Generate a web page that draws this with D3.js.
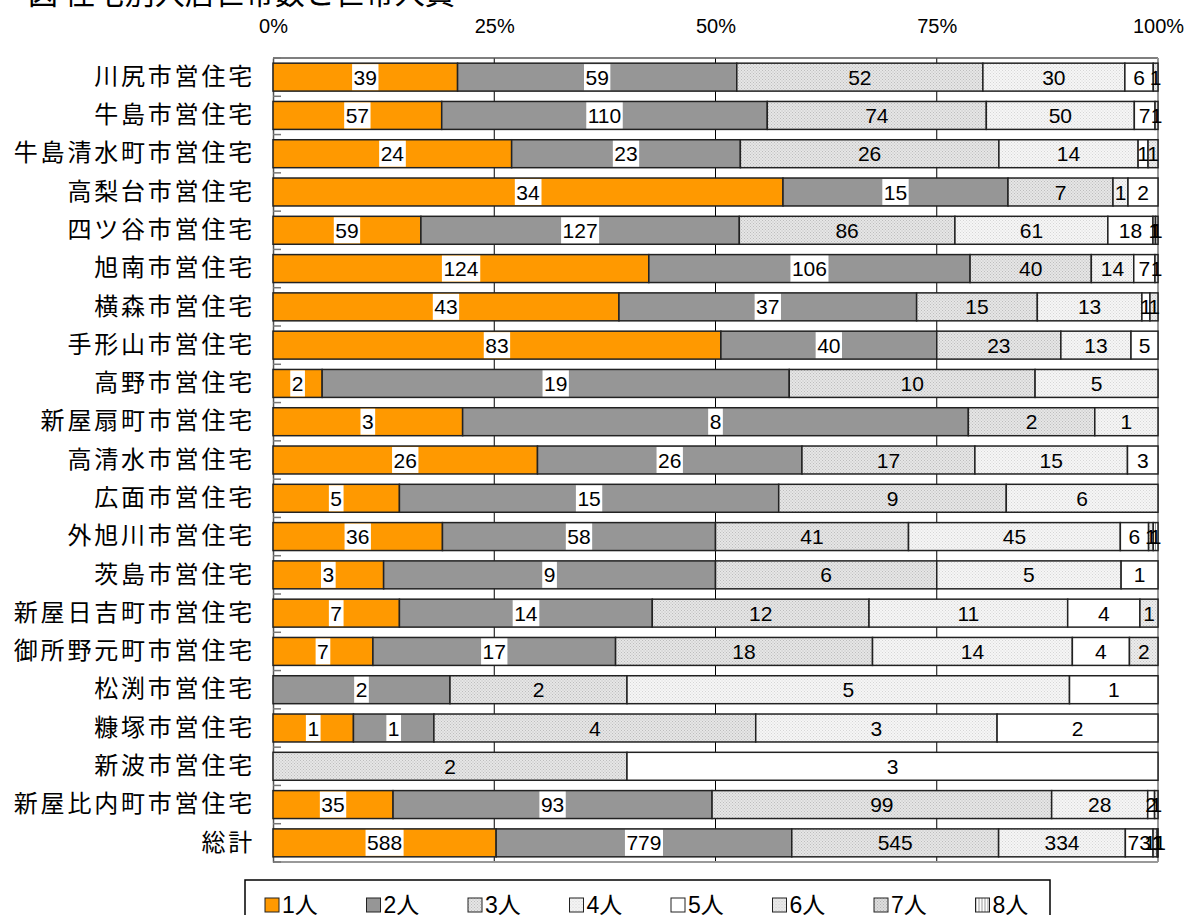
<!DOCTYPE html>
<html>
<head>
<meta charset="utf-8">
<script src="https://cdn.jsdelivr.net/npm/d3@7"></script>
<style>
  body { margin: 0; background: #fff; }
  text { fill: #000; }
</style>
</head>
<body>
<div id="chart"></div>
<script>
/*categories (top to bottom)*/
var categories = ["川尻市営住宅", "牛島市営住宅", "牛島清水町市営住宅", "高梨台市営住宅", "四ツ谷市営住宅",
  "旭南市営住宅", "横森市営住宅", "手形山市営住宅", "高野市営住宅", "新屋扇町市営住宅", "高清水市営住宅",
  "広面市営住宅", "外旭川市営住宅", "茨島市営住宅", "新屋日吉町市営住宅", "御所野元町市営住宅",
  "松渕市営住宅", "糠塚市営住宅", "新波市営住宅", "新屋比内町市営住宅", "総計"];

/*household size series*/
var seriesNames = ["1人", "2人", "3人", "4人", "5人", "6人", "7人", "8人"];
var p1 = [39, 57, 24, 34, 59, 124, 43, 83, 2, 3, 26, 5, 36, 3, 7, 7, 0, 1, 0, 35, 588];
var p2 = [59, 110, 23, 15, 127, 106, 37, 40, 19, 8, 26, 15, 58, 9, 14, 17, 2, 1, 0, 93, 779];
var p3 = [52, 74, 26, 7, 86, 40, 15, 23, 10, 2, 17, 9, 41, 6, 12, 18, 2, 4, 2, 99, 545];
var p4 = [30, 50, 14, 1, 61, 14, 13, 13, 5, 1, 15, 6, 45, 5, 11, 14, 5, 3, 0, 28, 334];
var p5 = [6, 7, 1, 2, 18, 7, 1, 5, 0, 0, 3, 0, 6, 1, 4, 4, 1, 2, 3, 2, 73];
var p6 = [1, 1, 1, 0, 1, 1, 1, 0, 0, 0, 0, 0, 1, 0, 1, 2, 0, 0, 0, 1, 11];
var p7 = [0, 0, 0, 0, 1, 0, 0, 0, 0, 0, 0, 0, 0, 0, 0, 0, 0, 0, 0, 0, 1];
var p8 = [0, 0, 0, 0, 0, 0, 0, 0, 0, 0, 0, 0, 1, 0, 0, 0, 0, 0, 0, 0, 1];
var seriesValues = [p1, p2, p3, p4, p5, p6, p7, p8];
var tickValues = [0, 0.25, 0.5, 0.75, 1];

var svgWidth = 1187, svgHeight = 915;
var margin = {top: 58, left: 273, right: 29, bottom: 53};
var width = svgWidth - margin.left - margin.right;
var height = svgHeight - margin.top - margin.bottom;

var svg = d3.select("#chart").append("svg")
  .attr("width", svgWidth)
  .attr("height", svgHeight);

/*fill patterns similar to the spreadsheet look*/
var defs = svg.append("defs");
function dotPattern(id, bg, dot) {
  var p = defs.append("pattern").attr("id", id)
    .attr("width", 3).attr("height", 3).attr("patternUnits", "userSpaceOnUse");
  p.append("rect").attr("width", 3).attr("height", 3).attr("fill", bg);
  p.append("rect").attr("width", 1).attr("height", 1).attr("fill", dot);
  p.append("rect").attr("x", 1.5).attr("y", 1.5).attr("width", 1).attr("height", 1).attr("fill", dot);
}
dotPattern("pat3", "#e6e6e6", "#bdbdbd");
dotPattern("pat4", "#f6f6f6", "#d6d6d6");
dotPattern("pat6", "#ececec", "#c8c8c8");
dotPattern("pat7", "#dedede", "#b4b4b4");
var stripe = defs.append("pattern").attr("id", "pat8")
  .attr("width", 3).attr("height", 3).attr("patternUnits", "userSpaceOnUse");
stripe.append("rect").attr("width", 3).attr("height", 3).attr("fill", "#fff");
stripe.append("rect").attr("width", 1).attr("height", 3).attr("fill", "#999");

var fills = ["#ff9900", "#969696", "url(#pat3)", "url(#pat4)", "#ffffff", "url(#pat6)", "url(#pat7)", "url(#pat8)"];

/*title, mostly cut off at the top edge*/
svg.append("text")
  .attr("x", 28).attr("y", 4)
  .style("font-family", "'Noto Sans CJK JP'")
  .style("font-size", "30px")
  .text("図 住宅別入居世帯数と世帯人員");

var g = svg.append("g").attr("transform", `translate(${margin.left},${margin.top})`);

var xScale = d3.scaleLinear().domain([0, 1]).range([0, width]);
var yScale = d3.scaleBand().domain(categories).range([0, height]).paddingInner(0.27).paddingOuter(0.135);

/*percent stacked data*/
var rows = categories.map(function(c, i) {
  var total = d3.sum(seriesValues, s => s[i]);
  var row = {name: c, total: total};
  seriesNames.forEach(function(s, k) { row[s] = seriesValues[k][i] / total; row["v" + k] = seriesValues[k][i]; });
  return row;
});
var stacked = d3.stack().keys(seriesNames)(rows);

/*gridlines*/
g.selectAll(".grid").data([0.25, 0.5, 0.75]).enter().append("line")
  .attr("x1", d => xScale(d)).attr("x2", d => xScale(d))
  .attr("y1", 0).attr("y2", height)
  .attr("stroke", "#000").attr("stroke-width", 1);

/*frame*/
g.append("line").attr("x1", 0).attr("x2", width).attr("y1", 0).attr("y2", 0).attr("stroke", "#555").attr("stroke-width", 1.5);
g.append("line").attr("x1", width).attr("x2", width).attr("y1", 0).attr("y2", height).attr("stroke", "#999").attr("stroke-width", 2);
g.append("line").attr("x1", 0).attr("x2", width).attr("y1", height).attr("y2", height).attr("stroke", "#999").attr("stroke-width", 2);

/*top axis with percent labels*/
var topAxis = d3.axisTop(xScale).tickValues(tickValues).tickFormat(d3.format(".0%")).tickSize(0).tickPadding(25);
var axG = g.append("g").call(topAxis);
axG.select(".domain").remove();
axG.selectAll("text")
  .style("font-family", "'Liberation Sans', Arial, sans-serif")
  .style("font-size", "20px")
  .attr("fill", "#000");

/*left axis: category labels and small ticks between rows*/
var leftAxis = d3.axisLeft(yScale).tickSize(0).tickPadding(18);
var lg = g.append("g").call(leftAxis);
lg.select(".domain").attr("stroke", "#555").attr("stroke-width", 1.5);
lg.selectAll("text")
  .style("font-family", "'Noto Sans CJK JP'")
  .style("font-size", "24px")
  .style("letter-spacing", "2.8px")
  .attr("fill", "#000");
var step = yScale.step();
g.selectAll(".ltick").data(d3.range(categories.length + 1)).enter().append("line")
  .attr("x1", 0).attr("x2", 8)
  .attr("y1", d => d * step).attr("y2", d => d * step)
  .attr("stroke", "#777").attr("stroke-width", 1.5);

/*bars*/
var layers = g.selectAll(".layer").data(stacked).enter().append("g")
  .attr("class", "layer");
layers.selectAll("rect").data(d => d).enter().append("rect")
  .attr("x", d => xScale(d[0]))
  .attr("y", d => yScale(d.data.name))
  .attr("width", d => Math.max(0, xScale(d[1]) - xScale(d[0])))
  .attr("height", yScale.bandwidth())
  .attr("fill", function() { return fills[d3.select(this.parentNode).datum().index]; })
  .attr("stroke", function(d) { return (d[1] - d[0]) > 0 ? "#222" : "none"; })
  .attr("stroke-width", 1.5);

/*value labels*/
var labelLayer = g.append("g");
stacked.forEach(function(layer, k) {
  layer.forEach(function(d) {
    var v = d.data["v" + k];
    if (!v) return;
    var cx = (xScale(d[0]) + xScale(d[1])) / 2;
    var cy = yScale(d.data.name) + yScale.bandwidth() / 2;
    var t = labelLayer.append("text")
      .attr("x", cx).attr("y", cy)
      .attr("text-anchor", "middle")
      .attr("dy", "0.36em")
      .style("font-family", "'Liberation Sans', Arial, sans-serif")
      .style("font-size", "21px")
      .text(v);
    if (k < 2) {
      var b = t.node().getBBox();
      labelLayer.insert("rect", "text")
        .attr("x", b.x - 1.5).attr("y", yScale(d.data.name) + 1)
        .attr("width", b.width + 3).attr("height", yScale.bandwidth() - 2)
        .attr("fill", "#fff");
    }
  });
});
/*move text above background boxes*/
labelLayer.selectAll("text").raise();

/*legend*/
var legend = svg.append("g").attr("transform", "translate(245,880)");
legend.append("rect").attr("x", 0).attr("y", 0).attr("width", 805).attr("height", 45)
  .attr("fill", "#fff").attr("stroke", "#000").attr("stroke-width", 1.5);
var items = legend.selectAll(".item").data(seriesNames).enter().append("g")
  .attr("transform", (d, i) => `translate(${20 + i * 101.5},0)`);
items.append("rect").attr("x", 0).attr("y", 18).attr("width", 14).attr("height", 14)
  .attr("fill", (d, i) => fills[i]).attr("stroke", "#222").attr("stroke-width", 1);
items.append("text").attr("x", 17).attr("y", 33)
  .style("font-family", "'Liberation Sans', 'Noto Sans CJK JP', sans-serif")
  .style("font-size", "23px")
  .text(d => d);
</script>
</body>
</html>
